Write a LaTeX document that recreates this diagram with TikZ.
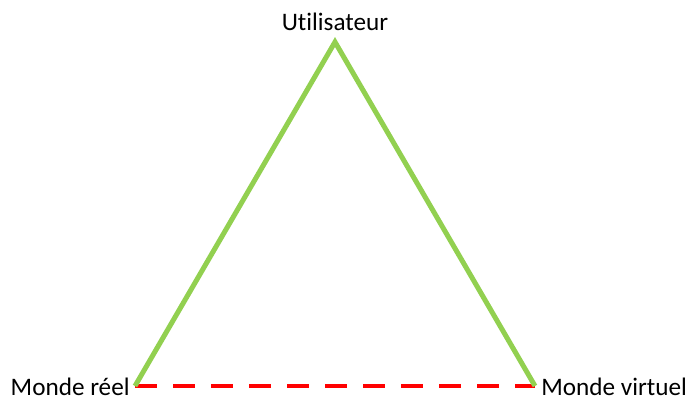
\documentclass[tikz,border=0pt]{standalone}
\usepackage{fontspec}
\setmainfont{Carlito}[Ligatures=NoCommon]
\usepackage{tikz}
\usetikzlibrary{positioning}
\definecolor{officegreen}{RGB}{146,208,80}
\definecolor{officered}{RGB}{255,0,0}

\begin{document}
\begin{tikzpicture}[x=0.5pt,y=-0.5pt,
  corner/.style={font=\fontsize{12.6}{14}\selectfont,inner sep=0pt},
  link/.style={officegreen,line width=2.5pt,line join=miter},
  gap/.style={officered,line width=2.25pt,dash pattern=on 11pt off 8pt}]
\useasboundingbox (0,0) rectangle (686,396);
% corners of the triangle
\coordinate (apex) at (335,42);
\coordinate (left) at (135,386);
\coordinate (right) at (535,386);
% labels
\node[corner,anchor=south] (user) at (335,31) {Utilisateur};
\node[corner,anchor=east] (real) at (130,387) {Monde réel};
\node[corner,anchor=west] (virtual) at (541,387) {Monde virtuel};
% sides
\draw[gap] (left) -- (right);
\draw[link] (left) -- (apex) -- (right);
\end{tikzpicture}
\end{document}
